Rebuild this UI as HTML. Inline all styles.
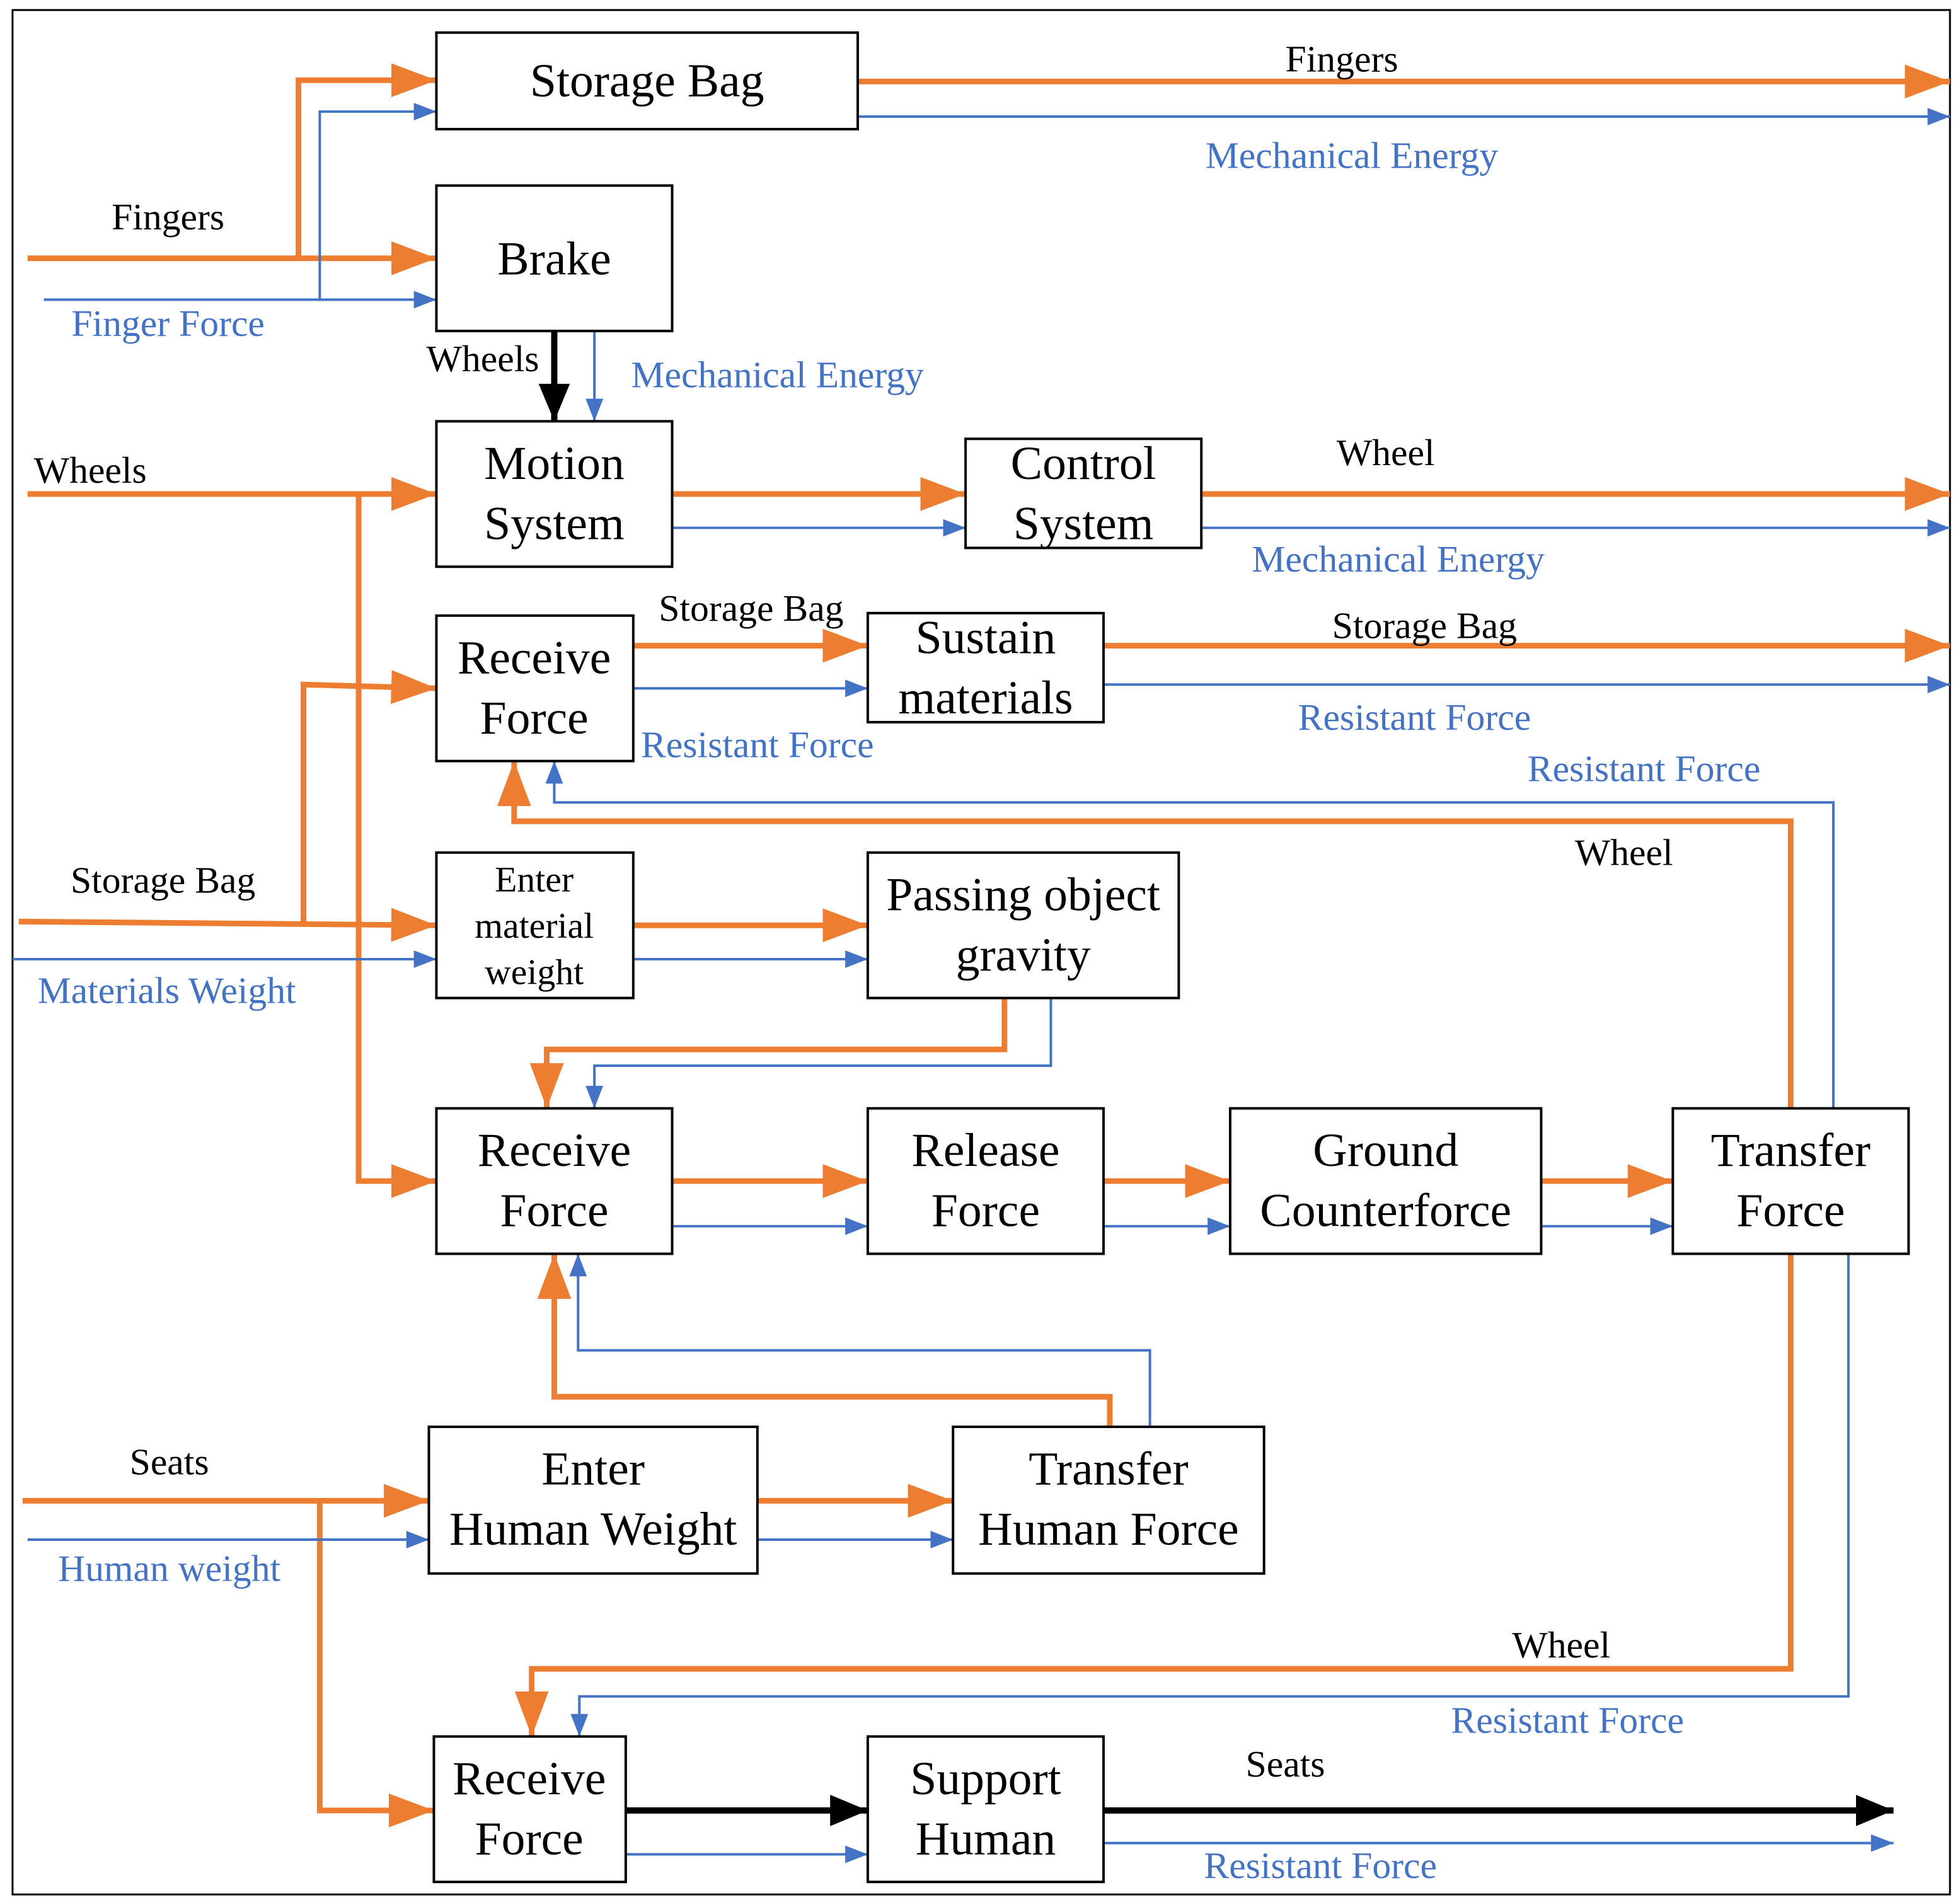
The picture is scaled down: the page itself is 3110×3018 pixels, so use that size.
<!DOCTYPE html>
<html><head><meta charset="utf-8"><style>
html,body{margin:0;padding:0;background:#fff;}
svg{display:block;}
text{font-family:"Liberation Serif",serif;}
.b{font-size:38px;fill:#000;text-anchor:middle;}
.s{font-size:29px;fill:#000;text-anchor:middle;}
.l{font-size:30px;fill:#000;text-anchor:middle;}
.lb{font-size:30px;fill:#4472C4;text-anchor:middle;}
rect{fill:#fff;stroke:#000;stroke-width:2;}
.o{stroke:#ED7D31;stroke-width:4.5;fill:none;marker-end:url(#ao);}
.u{stroke:#4472C4;stroke-width:2;fill:none;marker-end:url(#ab);}
.k{stroke:#000;stroke-width:5;fill:none;marker-end:url(#ak);}
</style></head><body>
<svg width="3110" height="3018" viewBox="0 0 1563 1517" preserveAspectRatio="none" xmlns="http://www.w3.org/2000/svg">
<defs>
<marker id="ao" markerWidth="8" markerHeight="6" refX="8" refY="3" orient="auto" markerUnits="strokeWidth"><path d="M0,0 L8,3 L0,6 z" fill="#ED7D31"/></marker>
<marker id="ab" markerWidth="9" markerHeight="7" refX="9" refY="3.5" orient="auto" markerUnits="strokeWidth"><path d="M0,0 L9,3.5 L0,7 z" fill="#4472C4"/></marker>
<marker id="ak" markerWidth="6" markerHeight="5" refX="6" refY="2.5" orient="auto" markerUnits="strokeWidth"><path d="M0,0 L6,2.5 L0,5 z" fill="#000"/></marker>
</defs>
<rect x="10" y="8" width="1545" height="1503" style="stroke-width:1.5"/>

<path class="o" d="M22,206 H348"/><path class="o" d="M238,206 V64 H348"/>
<path class="u" d="M35,239 H348"/><path class="u" d="M255,239 V89 H348"/>
<path class="o" d="M684,65 H1555"/><path class="u" d="M684,93 H1555"/>
<path class="k" d="M442,264 V336"/><path class="u" d="M474,264 V336"/>
<path class="o" d="M22,394 H348"/><path class="o" d="M286,394 V942 H348"/>
<path class="o" d="M536,394 H770"/><path class="u" d="M536,421 H770"/>
<path class="o" d="M958,394 H1555"/><path class="u" d="M958,421 H1555"/>
<path class="o" d="M505,515 H692"/><path class="u" d="M505,549 H692"/>
<path class="o" d="M880,515 H1555"/><path class="u" d="M880,546 H1555"/>
<path class="o" d="M15,735 L348,738"/><path class="o" d="M242,738 V546 L348,549"/>
<path class="u" d="M10,765 H348"/>
<path class="o" d="M505,738 H692"/><path class="u" d="M505,765 H692"/>
<path class="o" d="M801,796 V837 H436 V884"/><path class="u" d="M838,796 V850 H474 V884"/>
<path class="o" d="M536,942 H692"/><path class="u" d="M536,978 H692"/>
<path class="o" d="M880,942 H981"/><path class="u" d="M880,978 H981"/>
<path class="o" d="M1229,942 H1334"/><path class="u" d="M1229,978 H1334"/>
<path class="o" d="M1428,884 V655 H410 V607"/><path class="u" d="M1462,884 V640 H442 V607"/>
<path class="o" d="M1428,1000 V1331 H424 V1385"/><path class="u" d="M1474,1000 V1353 H462 V1385"/>
<path class="o" d="M18,1197 H342"/><path class="o" d="M255,1197 V1444 H346"/>
<path class="u" d="M22,1228 H342"/>
<path class="o" d="M604,1197 H760"/><path class="u" d="M604,1228 H760"/>
<path class="o" d="M885,1138 V1114 H442 V1000"/><path class="u" d="M917,1138 V1077 H461 V1000"/>
<path class="k" d="M499,1444 H692"/><path class="u" d="M499,1479 H692"/>
<path class="k" d="M880,1444 H1510"/><path class="u" d="M880,1470 H1510"/>

<rect x="348" y="26" width="336" height="77"/><text class="b" x="516" y="77">Storage Bag</text>
<rect x="348" y="148" width="188" height="116"/><text class="b" x="442" y="219">Brake</text>
<rect x="348" y="336" width="188" height="116"/><text class="b" x="442" y="382">Motion</text><text class="b" x="442" y="430">System</text>
<rect x="770" y="350" width="188" height="87"/><text class="b" x="864" y="382">Control</text><text class="b" x="864" y="430">System</text>
<rect x="348" y="491" width="157" height="116"/><text class="b" x="426" y="537">Receive</text><text class="b" x="426" y="585">Force</text>
<rect x="692" y="489" width="188" height="87"/><text class="b" x="786" y="521">Sustain</text><text class="b" x="786" y="569">materials</text>
<rect x="348" y="680" width="157" height="116"/><text class="s" x="426" y="711">Enter</text><text class="s" x="426" y="748">material</text><text class="s" x="426" y="785">weight</text>
<rect x="692" y="680" width="248" height="116"/><text class="b" x="816" y="726">Passing object</text><text class="b" x="816" y="774">gravity</text>
<rect x="348" y="884" width="188" height="116"/><text class="b" x="442" y="930">Receive</text><text class="b" x="442" y="978">Force</text>
<rect x="692" y="884" width="188" height="116"/><text class="b" x="786" y="930">Release</text><text class="b" x="786" y="978">Force</text>
<rect x="981" y="884" width="248" height="116"/><text class="b" x="1105" y="930">Ground</text><text class="b" x="1105" y="978">Counterforce</text>
<rect x="1334" y="884" width="188" height="116"/><text class="b" x="1428" y="930">Transfer</text><text class="b" x="1428" y="978">Force</text>
<rect x="342" y="1138" width="262" height="117"/><text class="b" x="473" y="1184">Enter</text><text class="b" x="473" y="1232">Human Weight</text>
<rect x="760" y="1138" width="248" height="117"/><text class="b" x="884" y="1184">Transfer</text><text class="b" x="884" y="1232">Human Force</text>
<rect x="346" y="1385" width="153" height="116"/><text class="b" x="422" y="1431">Receive</text><text class="b" x="422" y="1479">Force</text>
<rect x="692" y="1385" width="188" height="116"/><text class="b" x="786" y="1431">Support</text><text class="b" x="786" y="1479">Human</text>

<text class="l" x="134" y="183">Fingers</text>
<text class="lb" x="134" y="268">Finger Force</text>
<text class="l" x="1070" y="57">Fingers</text>
<text class="lb" x="1078" y="134">Mechanical Energy</text>
<text class="l" x="385" y="296">Wheels</text>
<text class="lb" x="620" y="309">Mechanical Energy</text>
<text class="l" x="72" y="385">Wheels</text>
<text class="l" x="1105" y="371">Wheel</text>
<text class="lb" x="1115" y="456">Mechanical Energy</text>
<text class="l" x="599" y="495">Storage Bag</text>
<text class="lb" x="604" y="604">Resistant Force</text>
<text class="l" x="1136" y="509">Storage Bag</text>
<text class="lb" x="1128" y="582">Resistant Force</text>
<text class="lb" x="1311" y="623">Resistant Force</text>
<text class="l" x="1295" y="690">Wheel</text>
<text class="l" x="130" y="712">Storage Bag</text>
<text class="lb" x="133" y="800">Materials Weight</text>
<text class="l" x="135" y="1176">Seats</text>
<text class="lb" x="135" y="1261">Human weight</text>
<text class="l" x="1245" y="1322">Wheel</text>
<text class="lb" x="1250" y="1382">Resistant Force</text>
<text class="l" x="1025" y="1417">Seats</text>
<text class="lb" x="1053" y="1498">Resistant Force</text>
</svg>
</body></html>
